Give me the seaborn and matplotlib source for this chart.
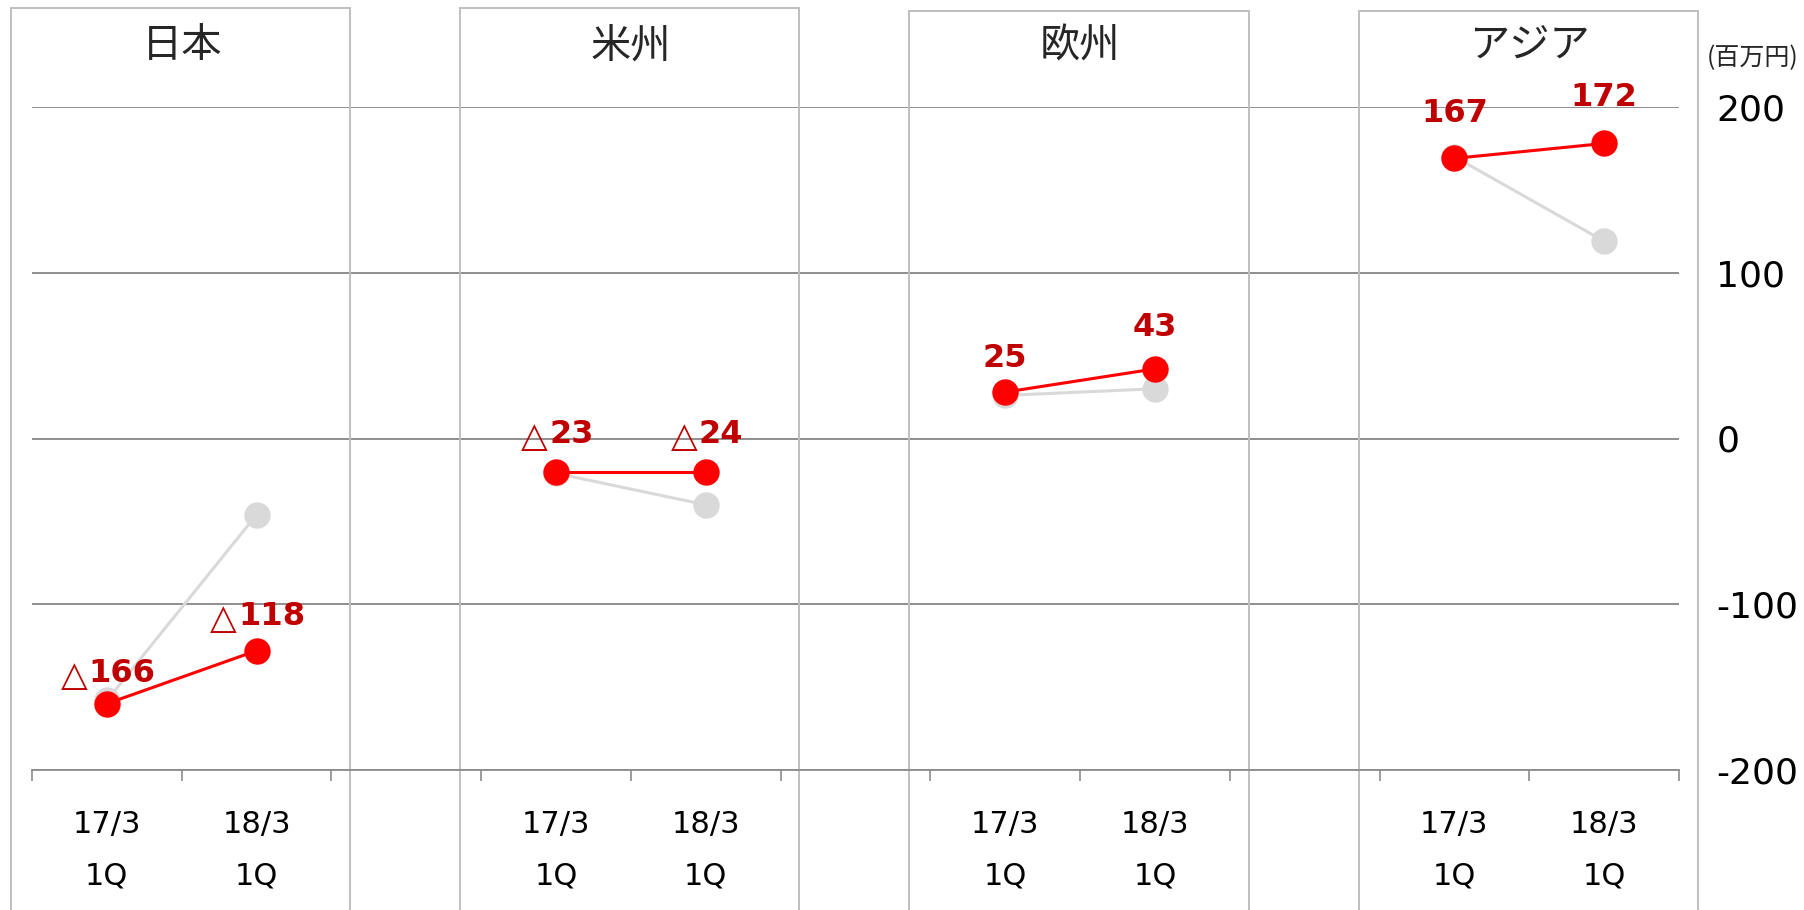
import numpy as np
import pandas as pd
import matplotlib
matplotlib.use('Agg')
import matplotlib.pyplot as plt
import matplotlib.transforms as mtransforms
from matplotlib.patches import Rectangle
import seaborn as sns

# ---- data ----
regions = ['日本', '米州', '欧州', 'アジア']
periods = ['17/3\n1Q', '18/3\n1Q']
prev_values = [-158, -46, -21, -40, 26, 30, 170, 119]    # grey series
curr_values = [-160, -128, -20, -20, 28, 42, 169, 178]   # red series
curr_labels = ['△166', '△118', '△23', '△24', '25', '43', '167', '172']
y_ticks = [-200, -100, 0, 100, 200]
y_tick_labels = ['-200', '-100', '0', '100', '200']
unit_label = '(百万円)'

# label placement (style): vertical offset of each data label, in points
label_offsets = [22, 24.5, 26.5, 26.5, 24.5, 30, 32.5, 33]

sns.set_theme(style='white')
plt.rcParams['font.family'] = ['DejaVu Sans', 'Noto Sans CJK JP']
plt.rcParams['axes.unicode_minus'] = False

rows = []
for i, reg in enumerate(regions):
    for j, per in enumerate(periods):
        k = i * 2 + j
        rows.append(dict(region=reg, period=per, x=3 * i + j, series='prev', v=prev_values[k]))
        rows.append(dict(region=reg, period=per, x=3 * i + j, series='curr', v=curr_values[k]))
df = pd.DataFrame(rows)

W, H = 1804, 910
fig = plt.figure(figsize=(W / 100, H / 100), dpi=100)
ax = fig.add_axes([32 / W, (H - 770) / H, (1679 - 32) / W, (770 - 107) / H])

sns.lineplot(data=df[df.series == 'prev'], x='x', y='v', units='region', estimator=None,
             sort=False, color='#D9D9D9', lw=2.2, marker='o', markersize=19,
             markeredgewidth=0, ax=ax, legend=False, zorder=3)
sns.lineplot(data=df[df.series == 'curr'], x='x', y='v', units='region', estimator=None,
             sort=False, color='#FF0000', lw=2.2, marker='o', markersize=19,
             markeredgewidth=0, ax=ax, legend=False, zorder=4)
for ln in ax.lines:
    ln.set_clip_on(False)

ax.set_xlim(-0.5, 10.5)
ax.set_ylim(-200, 200)
ax.set_xlabel('')
ax.set_ylabel('')

xpos = [3 * i + j for i in range(len(regions)) for j in range(len(periods))]
ax.set_xticks(xpos)
ax.set_xticklabels([periods[j] for i in range(len(regions)) for j in range(len(periods))])
ax.set_xticks(np.arange(-0.5, 11, 1), minor=True)
ax.tick_params(axis='x', which='major', bottom=True, length=0, pad=29, labelsize=22,
               labelcolor='#000000')
ax.tick_params(axis='x', which='minor', bottom=True, length=8, width=1.2, color='#8C8C8C',
               direction='out')
for t in ax.get_xticklabels():
    t.set_linespacing(1.95)

ax.yaxis.tick_right()
ax.set_yticks(y_ticks)
ax.set_yticklabels(y_tick_labels)
ax.tick_params(axis='y', length=0, pad=27, labelsize=26, labelcolor='#000000')
ax.grid(axis='y', color='#868686', lw=1.3)
ax.grid(axis='x', visible=False)
for s in ['top', 'left', 'right']:
    ax.spines[s].set_visible(False)
ax.spines['bottom'].set_color('#8C8C8C')
ax.spines['bottom'].set_linewidth(1.3)
ax.set_axisbelow(True)

trans = mtransforms.blended_transform_factory(ax.transData, fig.transFigure)
box_tops = [1 - 8 / H, 1 - 8 / H, 1 - 11.5 / H, 1 - 11.5 / H]
for i, reg in enumerate(regions):
    x0 = 3 * i - 0.5 - 0.14
    rect = Rectangle((x0, -0.1), 2 + 0.265, box_tops[i] + 0.1, transform=trans,
                     fill=False, ec='#BFBFBF', lw=1.4, clip_on=False, zorder=1)
    ax.add_patch(rect)
    ax.text(3 * i + 0.5, 1 - 46 / H, reg, transform=trans, ha='center', va='center',
            fontsize=29, color='#262626', family=['Noto Sans CJK JP'])

fig.text(1707 / W, 1 - 58 / H, unit_label, ha='left', va='center', fontsize=18,
         color='#262626', family=['Noto Sans CJK JP'])

for k, lab in enumerate(curr_labels):
    x = xpos[k]
    v = curr_values[k]
    dy = label_offsets[k]
    if lab.startswith('△'):
        num = ax.annotate(lab[1:], xy=(x, v), xytext=(11, dy), textcoords='offset points',
                          ha='center', va='center', fontsize=23, fontweight='bold',
                          color='#C00000', zorder=5, annotation_clip=False)
        ax.annotate('△', xy=(0, 0.42), xycoords=num, xytext=(-1, 0), textcoords='offset points',
                    ha='right', va='center', fontsize=25, color='#C00000', zorder=5,
                    annotation_clip=False)
    else:
        ax.annotate(lab, xy=(x, v), xytext=(0, dy), textcoords='offset points',
                    ha='center', va='center', fontsize=23, fontweight='bold',
                    color='#C00000', zorder=5, annotation_clip=False)

fig.savefig('out.png', dpi=100)
